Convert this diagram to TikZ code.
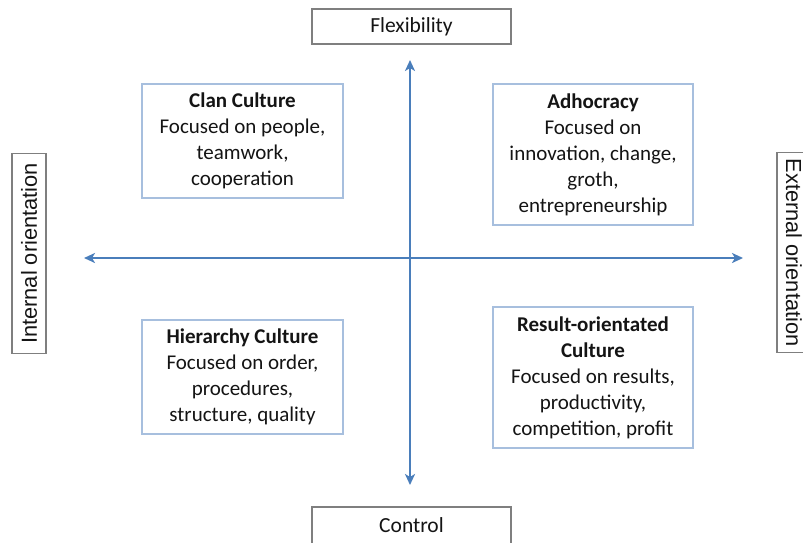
\documentclass[tikz,border=0pt]{standalone}
\usepackage{fontspec}
\setmainfont{Carlito}
\newfontfamily\arialf{Liberation Sans}
\usetikzlibrary{arrows.meta}
\definecolor{axisblue}{HTML}{4A7EBB}
\definecolor{boxblue}{HTML}{A7BFDE}
\definecolor{labgray}{HTML}{7F7F7F}
\definecolor{txt}{HTML}{141414}
\begin{document}
\begin{tikzpicture}[x=1pt,y=-1pt,
  quad/.style={draw=boxblue,line width=1.2pt,text=txt,align=center,
    font=\fontsize{21}{26}\selectfont,inner sep=0pt},
  lab/.style={draw=labgray,line width=1.2pt,text=txt,
    font=\fontsize{21.5}{24}\selectfont,inner sep=0pt},
  sidelab/.style={draw=labgray,line width=1.2pt,text=txt,
    font=\arialf\fontsize{21.8}{24}\selectfont,inner sep=0pt},
  axis/.style={draw=axisblue,line width=2.2pt,
    -{Stealth[length=11pt,width=10pt,inset=3pt]}}]
\clip (0,0) rectangle (803,542);
\fill[white] (0,0) rectangle (803,542);
% outer labels
\node[lab,minimum width=199pt,minimum height=35pt] (flex) at (411.5,26.5) {Flexibility};
\node[lab,minimum width=199pt,minimum height=50pt] (ctrl) at (411.5,532) {};
\node[text=txt,font=\fontsize{21.5}{24}\selectfont,inner sep=0pt] (ctrlt) at (411.5,525) {Control};
\node[sidelab,minimum width=200pt,minimum height=34pt,rotate=90] (intl) at (29,253.5) {Internal orientation};
\node[sidelab,minimum width=200pt,minimum height=34pt,rotate=-90] (extl) at (794,252.5) {External orientation};
% axes
\coordinate (top) at (410,60);
\coordinate (bot) at (410,485);
\coordinate (lft) at (84,258);
\coordinate (rgt) at (743,258);
\coordinate (midv) at (410,272);
\coordinate (midh) at (413,258);
\draw[axis] (midv) -- (top);
\draw[axis] (midv) -- (bot);
\draw[axis] (midh) -- (lft);
\draw[axis] (midh) -- (rgt);
% quadrants
\node[quad,minimum width=201pt,minimum height=114pt] (clan) at (242.5,141)
  {\textbf{Clan Culture}\\Focused on people,\\teamwork,\\cooperation};
\node[quad,minimum width=200pt,minimum height=141pt] (adho) at (593,154.5)
  {\textbf{Adhocracy}\\Focused on\\innovation, change,\\groth,\\entrepreneurship};
\node[quad,minimum width=201pt,minimum height=114pt] (hier) at (242.5,377)
  {\textbf{Hierarchy Culture}\\Focused on order,\\procedures,\\structure, quality};
\node[quad,minimum width=200pt,minimum height=141pt] (res) at (593,377.5)
  {\textbf{Result-orientated}\\\textbf{Culture}\\Focused on results,\\productivity,\\competition, profit};
\end{tikzpicture}
\end{document}
